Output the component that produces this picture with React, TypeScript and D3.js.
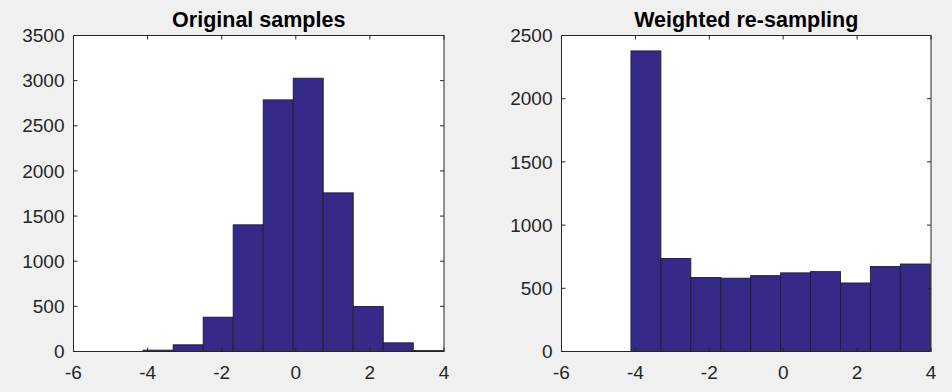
import * as d3 from "d3";

// shared bin edges (hist with 10 bins)
const binEdges = [-4.12, -3.31, -2.5, -1.69, -0.88, -0.07, 0.74, 1.55, 2.36, 3.17, 3.98];
const originalCounts = [15, 74, 380, 1403, 2787, 3027, 1757, 498, 96, 10];
const resampledCounts = [2378, 736, 585, 580, 600, 622, 632, 542, 672, 692];
const xTicks = [-6, -4, -2, 0, 2, 4];
const yTicksLeft = [0, 500, 1000, 1500, 2000, 2500, 3000, 3500];
const yTicksRight = [0, 500, 1000, 1500, 2000, 2500];

const barFill = "#352a87";
const axisColor = "#262626";
const font = "'Liberation Sans', Arial, Helvetica, sans-serif";

function Hist({left, right, title, counts, yMax, yTicks}: {
    left: number; right: number; title: string; counts: number[]; yMax: number; yTicks: number[];
}) {
    const top = 35.5;
    const bottom = 351.5;
    const x = d3.scaleLinear().domain([-6, 4]).range([left, right]);
    const y = d3.scaleLinear().domain([0, yMax]).range([bottom, top]);
    const tick = 4;

    return (
        <g>
            <rect x={left} y={top} width={right - left} height={bottom - top} fill="#fff" />
            {counts.map((c, i) => (
                <rect key={i}
                      x={x(binEdges[i])}
                      y={y(c)}
                      width={x(binEdges[i + 1]) - x(binEdges[i])}
                      height={bottom - y(c)}
                      fill={barFill}
                      stroke="#1f1f1f"
                      strokeWidth={0.9} />
            ))}
            <rect x={left} y={top} width={right - left} height={bottom - top}
                  fill="none" stroke={axisColor} strokeWidth={1} />
            {xTicks.map(t => (
                <g key={"x" + t}>
                    <line x1={x(t)} x2={x(t)} y1={bottom} y2={bottom - tick} stroke={axisColor} />
                    <line x1={x(t)} x2={x(t)} y1={top} y2={top + tick} stroke={axisColor} />
                    <text x={x(t)} y={379} textAnchor="middle" fontSize={19}
                          fontFamily={font} fill={axisColor}>{t}</text>
                </g>
            ))}
            {yTicks.map(t => (
                <g key={"y" + t}>
                    <line x1={left} x2={left + tick} y1={y(t)} y2={y(t)} stroke={axisColor} />
                    <line x1={right} x2={right - tick} y1={y(t)} y2={y(t)} stroke={axisColor} />
                    <text x={left - 9} y={y(t)} dy="0.35em" textAnchor="end" fontSize={19}
                          fontFamily={font} fill={axisColor}>{t}</text>
                </g>
            ))}
            <text x={(left + right) / 2} y={27} textAnchor="middle" fontSize={21.5}
                  fontWeight="bold" fontFamily={font} fill="#000">{title}</text>
        </g>
    );
}

export default function App() {
    return (
        <svg width={952} height={392} style={{position: "absolute", left: 0, top: 0}}>
            <rect width={952} height={392} fill="#f0f0f0" />
            <Hist left={73.5} right={444} title="Original samples"
                  counts={originalCounts} yMax={3500} yTicks={yTicksLeft} />
            <Hist left={561.5} right={931} title="Weighted re-sampling"
                  counts={resampledCounts} yMax={2500} yTicks={yTicksRight} />
        </svg>
    );
}
